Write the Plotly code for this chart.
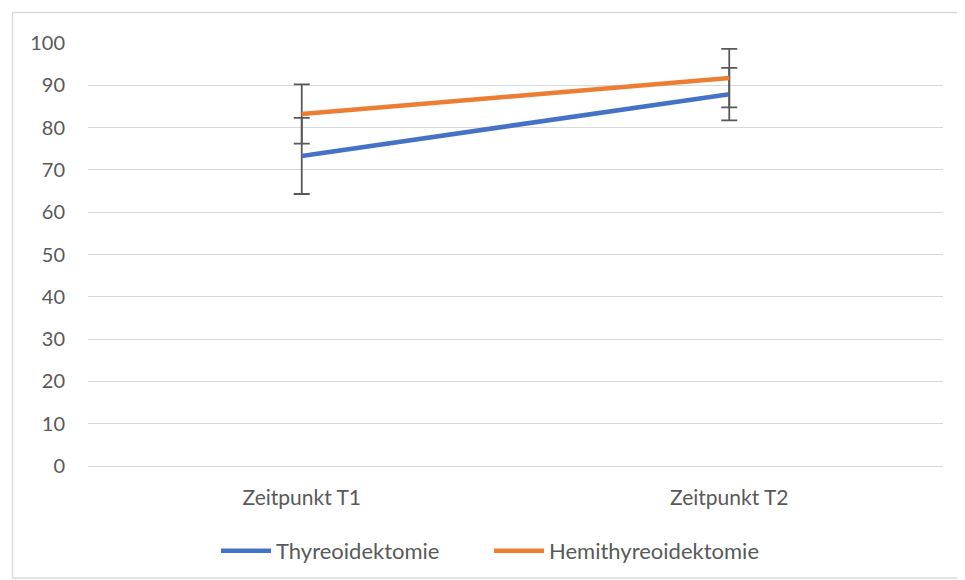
import plotly.graph_objects as go

categories = ["Zeitpunkt T1", "Zeitpunkt T2"]
thyreo = [73.3, 87.9]
thyreo_err = [9.0, 6.2]
hemi = [83.2, 91.7]
hemi_err = [7.0, 6.9]

fig = go.Figure()
fig.add_trace(go.Scatter(
    x=categories, y=thyreo, mode="lines", name="Thyreoidektomie",
    line=dict(color="#4472C4", width=4.5),
    error_y=dict(type="data", array=thyreo_err, visible=True, color="#595959", thickness=1.8, width=8),
))
fig.add_trace(go.Scatter(
    x=categories, y=hemi, mode="lines", name="Hemithyreoidektomie",
    line=dict(color="#ED7D31", width=4.5),
    error_y=dict(type="data", array=hemi_err, visible=True, color="#595959", thickness=1.8, width=8),
))

OFF = 8  # page body margin
W, H = 965 - OFF, 580 - OFF
L, R, T, B = 88 - OFF, 943 - OFF, 43 - OFF, 466 - OFF
pw, ph = R - L, B - T
def px(x): return (x - OFF - L) / pw
def py(y): return (B - (y - OFF)) / ph

FONT = "Lato, Liberation Sans, sans-serif"
fig.update_layout(
    width=W, height=H,
    margin=dict(l=L, r=W - R, t=T, b=H - B, autoexpand=False),
    paper_bgcolor="white", plot_bgcolor="white",
    font=dict(family=FONT, size=20, color="#595959"),
    showlegend=True,
    legend=dict(orientation="h", x=px(216), xanchor="left", y=py(551), yanchor="middle",
                bgcolor="rgba(0,0,0,0)",
                font=dict(family=FONT, size=22, color="#595959"), traceorder="normal",
                itemwidth=50, entrywidth=208, entrywidthmode="pixels"),
    xaxis=dict(type="category", range=[-0.5, 1.5], showgrid=False, showline=False,
               ticks="", ticklabelstandoff=17, tickfont=dict(family=FONT, size=21, color="#595959")),
    yaxis=dict(range=[0, 100], dtick=10, showgrid=True, gridcolor="#D9D9D9", gridwidth=1.3,
               zeroline=True, zerolinecolor="#D9D9D9", zerolinewidth=1.3, showline=False,
               ticks="", ticklabelstandoff=22, tickfont=dict(family=FONT, size=20, color="#595959")),
    shapes=[dict(type="rect", xref="paper", yref="paper",
                 x0=px(12.5), x1=px(963), y0=py(578), y1=py(12.5),
                 line=dict(color="#D9D9D9", width=1.3), fillcolor="rgba(0,0,0,0)", layer="below")],
)

fig.write_html("out.html")
